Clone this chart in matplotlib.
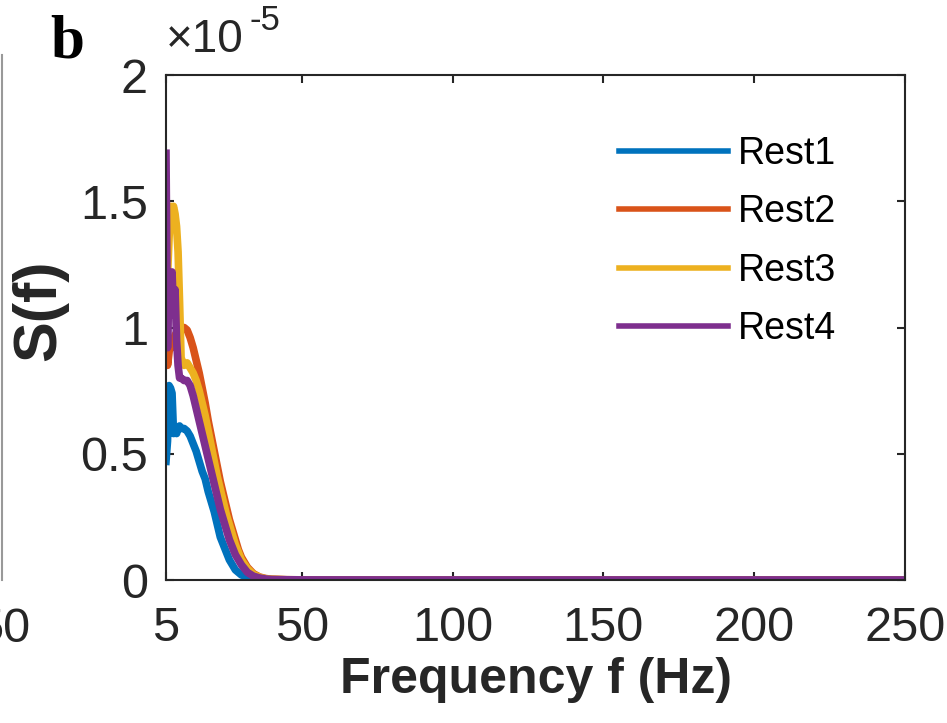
import numpy as np
import matplotlib
matplotlib.use('Agg')
import matplotlib.pyplot as plt
from matplotlib.lines import Line2D

plt.rcParams['font.family'] = ['Liberation Sans', 'DejaVu Sans']

# frequency grid (Hz) and spectra S(f) in units of 1e-5
freq = [5, 5.5, 6, 6.5, 7, 7.5, 8, 8.5, 9, 9.5,
        10, 11, 12, 13, 14, 15, 16, 17, 18, 19,
        20, 21, 22, 23, 24, 25, 26, 27, 28, 29,
        30, 32, 34, 36, 38, 40, 45, 50, 60, 80,
        100, 125, 150, 175, 200, 225, 250]

rest1 = [0.47, 0.55, 0.77, 0.76, 0.74, 0.58, 0.60, 0.58, 0.60, 0.61,
         0.60, 0.60, 0.59, 0.57, 0.54, 0.51, 0.47, 0.43, 0.40, 0.35,
         0.31, 0.27, 0.22, 0.17, 0.14, 0.11, 0.08, 0.06, 0.04, 0.03,
         0.02, 0.012, 0.006, 0.003, 0.002, 0.001, 0.0005, 0.0004, 0.0003, 0.0003,
         0.0002, 0.0002, 0.0002, 0.0002, 0.0002, 0.0002, 0.0002]
rest2 = [1.43, 0.85, 0.90, 0.95, 0.92, 0.95, 0.97, 0.98, 0.97, 1.00,
         0.99, 1.00, 0.99, 0.96, 0.92, 0.87, 0.82, 0.76, 0.70, 0.63,
         0.57, 0.51, 0.45, 0.39, 0.34, 0.29, 0.24, 0.20, 0.16, 0.12,
         0.09, 0.05, 0.025, 0.012, 0.006, 0.003, 0.001, 0.0006, 0.0004, 0.0003,
         0.0003, 0.0003, 0.0003, 0.0003, 0.0003, 0.0003, 0.0003]
rest3 = [1.00, 1.20, 1.35, 1.48, 1.46, 1.48, 1.45, 1.40, 1.30, 1.10,
         0.88, 0.85, 0.86, 0.84, 0.82, 0.79, 0.75, 0.70, 0.65, 0.59,
         0.53, 0.47, 0.41, 0.36, 0.31, 0.26, 0.22, 0.18, 0.14, 0.11,
         0.08, 0.045, 0.022, 0.011, 0.005, 0.003, 0.001, 0.0006, 0.0004, 0.0003,
         0.0003, 0.0003, 0.0003, 0.0003, 0.0003, 0.0003, 0.0003]
rest4 = [1.69, 0.92, 1.22, 1.15, 1.22, 1.05, 1.15, 0.95, 0.85, 0.80,
         0.80, 0.79, 0.79, 0.77, 0.73, 0.68, 0.63, 0.58, 0.53, 0.48,
         0.43, 0.38, 0.33, 0.28, 0.24, 0.20, 0.16, 0.13, 0.10, 0.08,
         0.06, 0.03, 0.015, 0.008, 0.004, 0.002, 0.001, 0.0005, 0.0004, 0.0003,
         0.0003, 0.0003, 0.0003, 0.0003, 0.0003, 0.0003, 0.0003]

labels = ['Rest1', 'Rest2', 'Rest3', 'Rest4']
colors = ['#0072BD', '#D95319', '#EDB120', '#7E2F8E']
xticks = [5, 50, 100, 150, 200, 250]
yticks = [0, 0.5, 1, 1.5, 2]
ytick_labels = ['0', '0.5', '1', '1.5', '2']

fig = plt.figure(figsize=(9.47, 7.23), dpi=100)
ax = fig.add_axes([166 / 947, 1 - 580 / 723, 739 / 947, 505 / 723])

for series, lab, col in zip([rest1, rest2, rest3, rest4], labels, colors):
    ax.plot(freq, np.array(series) * 1e-5, color=col, linewidth=5.5, label=lab)

ax.set_xlim(5, 250)
ax.set_ylim(0, 2e-5)
ax.set_xticks(xticks)
ax.set_xticklabels([str(t) for t in xticks])
ax.set_yticks([v * 1e-5 for v in yticks])
ax.set_yticklabels(ytick_labels)

for s in ax.spines.values():
    s.set_color('#262626')
    s.set_linewidth(1.5)
ax.tick_params(direction='in', length=6, width=1.5, color='#262626',
               labelsize=35, labelcolor='#262626', top=True, right=True)
ax.tick_params(axis='x', pad=19)
ax.tick_params(axis='y', pad=13)

ax.set_xlabel('Frequency f (Hz)', fontsize=36, fontweight='bold', color='#262626', labelpad=4)
# y label placed by hand, as in the original
fig.text(40 / 947, 1 - 310 / 723, 'S(f)', fontsize=44, fontweight='bold', color='#262626',
         rotation=90, ha='center', va='center')

# exponent label as MATLAB draws it
ax.text(0.0, 1.025, '\u00d710', transform=ax.transAxes, fontsize=33, color='#262626',
        ha='left', va='bottom')
ax.text(0.113, 1.075, '-5', transform=ax.transAxes, fontsize=25, color='#262626',
        ha='left', va='bottom')

leg = ax.legend(loc='upper left', bbox_to_anchor=(0.593, 0.909), borderaxespad=0,
                frameon=False, fontsize=27, handlelength=2.9, handletextpad=0.27,
                labelspacing=0.6)
for line in leg.get_lines():
    line.set_linewidth(4)

# panel letter
fig.text(50 / 947, 1 - 58 / 723, 'b', fontsize=44, fontweight='bold',
         family='Liberation Serif', color='black')

# remnants of the neighbouring panel on the left
fig.add_artist(Line2D([2 / 947, 2 / 947], [1 - 580 / 723, 1 - 55 / 723],
                      color='#999999', linewidth=1.5))
fig.text(30 / 947, 1 - 630 / 723, '50', fontsize=35, color='#262626',
         ha='right', va='center')

fig.savefig('out.png', dpi=100)
